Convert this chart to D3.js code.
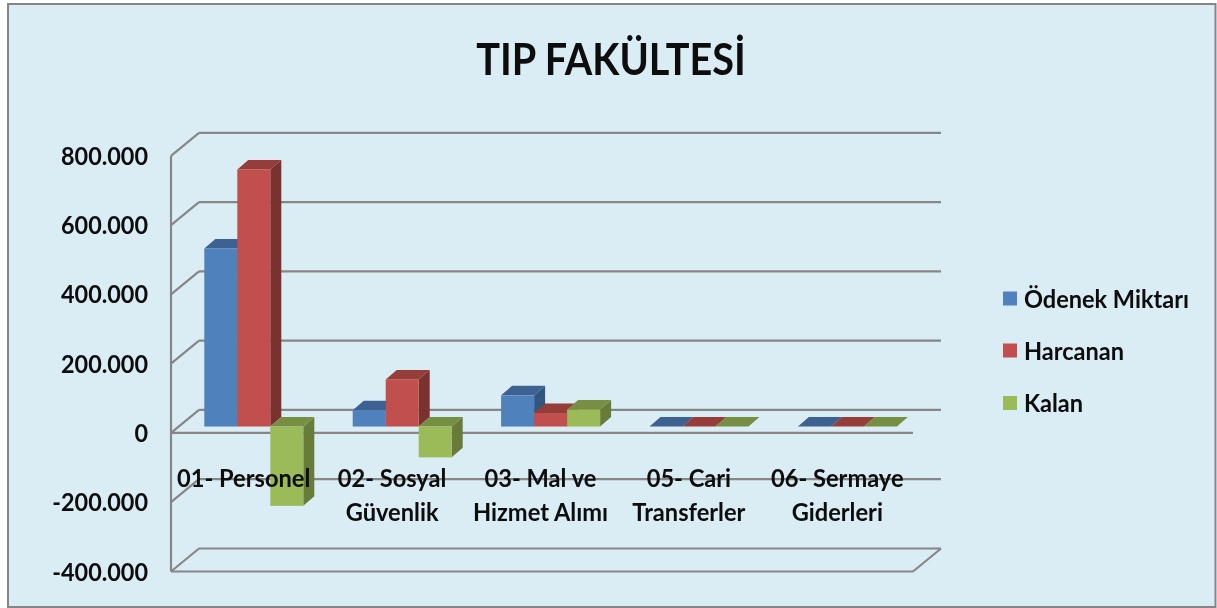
<!DOCTYPE html>
<html lang="tr"><head><meta charset="utf-8">
<script src="https://cdn.jsdelivr.net/npm/d3@7/dist/d3.min.js"></script>
<style>html,body{margin:0;padding:0;background:#fff;overflow:hidden}svg{display:block}text{font-family:Lato,"Open Sans",sans-serif;fill:#0a0a0a}</style>
</head><body><svg id="c" width="1217" height="608"></svg>
<script>
const titleText = "TIP FAKÜLTESİ";
const categories = ["01-Personel","02-Sosyal|Güvenlik","03-Mal ve|Hizmet Alımı","05-Cari|Transferler","06-Sermaye|Giderleri"];
const seriesNames = ["Ödenek Miktarı","Harcanan","Kalan"];
const odenek = [514000,47000,90000,0,0];
const harcanan = [742000,136000,39000,0,0];
const kalan = [-229000,-89000,49000,0,0];
const yTicks = [-400000,-200000,0,200000,400000,600000,800000];
const front = ["#4f81bd","#c0504d","#9bbb59"], topC = ["#3c6292","#953c39","#778f43"], sideC = ["#335680","#7a302e","#667b39"];

const svg = d3.select("#c");
const fmt = v => (v<0?"-":"")+d3.format(",")(Math.abs(v)).replace(/,/g,".");
const squeeze = (sel,r) => sel.each(function(){
  this.setAttribute("lengthAdjust","spacingAndGlyphs");
  this.setAttribute("textLength",this.getComputedTextLength()*r);
});
svg.append("rect").attr("x",8).attr("y",4).attr("width",1207.5).attr("height",603).attr("fill","#dbedf4").attr("stroke","#858585").attr("stroke-width",2);
const g = svg.append("g").attr("filter","url(#soft)");
svg.append("defs").append("filter").attr("id","soft").attr("x","-2%").attr("y","-2%").attr("width","104%").attr("height","104%")
  .append("feGaussianBlur").attr("stdDeviation",0.45);

const y = d3.scaleLinear().domain([-400000,800000]).range([571.5,155.8]);
const x = d3.scaleBand().domain(categories).range([171,913]);
const sub = d3.scaleBand().domain(d3.range(3)).range([33.3,132.3]);
const wall = {dx:28,dy:-23}, barOff = {dx:0,dy:-6.4}, depth = {dx:11,dy:-9.5};
const grid = "#868686";
const line=(x1,y1,x2,y2,w)=>g.append("line").attr("x1",x1).attr("y1",y1).attr("x2",x2).attr("y2",y2).attr("stroke",grid).attr("stroke-width",w||2.2);

// gridlines: back wall and side wall
yTicks.forEach(t=>{
  const p=y(t);
  line(171,p,171+wall.dx,p+wall.dy);
  line(171+wall.dx,p+wall.dy,913+wall.dx,p+wall.dy);
});
line(171,y(-400000),913,y(-400000));
line(913,y(-400000),913+wall.dx,y(-400000)+wall.dy);
line(171,y(800000),171,y(-400000));
line(171,y(0),913,y(0));

// bars
const base = y(0)+barOff.dy;
const poly=(pts,f)=>g.append("polygon").attr("points",pts.map(p=>p.join(",")).join(" ")).attr("fill",f);
[odenek,harcanan,kalan].forEach((vals,s)=>{
  vals.forEach((v,i)=>{
    const x0=x(categories[i])+sub(s), w=sub.bandwidth();
    const yv=y(v)+barOff.dy;
    const top=Math.min(yv,base), bot=Math.max(yv,base);
    poly([[x0+w,top],[x0+w+depth.dx,top+depth.dy],[x0+w+depth.dx,bot+depth.dy],[x0+w,bot]],sideC[s]);
    poly([[x0,top],[x0+w,top],[x0+w+depth.dx,top+depth.dy],[x0+depth.dx,top+depth.dy]],topC[s]);
    g.append("rect").attr("x",x0).attr("y",top).attr("width",w).attr("height",bot-top).attr("fill",front[s]);
  });
});

// y axis labels
g.selectAll(".yl").data(yTicks).join("text").attr("class","yl")
  .attr("x",148).attr("y",d=>y(d)+9).attr("text-anchor","end")
  .attr("font-size",24).attr("font-weight",700)
  .text(d=>fmt(d)).call(squeeze,0.975);

// category labels
categories.forEach(c=>{
  const cx=x(c)+x.bandwidth()/2-1.5;
  c.split("|").forEach((l,k)=>{
    g.append("text").attr("x",cx).attr("y",486.5+k*34.5).attr("text-anchor","middle")
     .attr("font-size",24).attr("font-weight",700).text(l.replace("-","- ")).call(squeeze,0.985);
  });
});

// title
g.append("text").attr("x",611).attr("y",75).attr("text-anchor","middle").attr("font-size",44).attr("font-weight",700).text(titleText).call(squeeze,0.9);

// legend
seriesNames.forEach((n,i)=>{
  const ly=[298.5,350.5,403][i];
  g.append("rect").attr("x",1003).attr("y",ly-7).attr("width",14).attr("height",14).attr("fill",front[i]);
  g.append("text").attr("x",1024).attr("y",ly+9).attr("font-size",24).attr("font-weight",700).text(n).call(squeeze,0.98);
});
</script></body></html>
